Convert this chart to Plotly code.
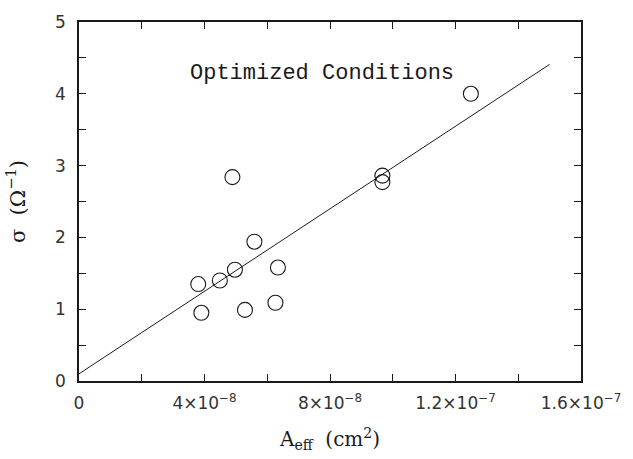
import plotly.graph_objects as go

# Data
area_eff = [4.89e-8, 5.59e-8, 6.34e-8, 4.97e-8, 4.49e-8, 3.80e-8, 3.90e-8,
            5.29e-8, 6.26e-8, 9.67e-8, 9.67e-8, 12.49e-8]
sigma = [2.84, 1.94, 1.58, 1.55, 1.40, 1.35, 0.95, 0.99, 1.09, 2.86, 2.77, 4.00]

fit_x = [0.0, 1.50e-7]
fit_y = [0.10, 4.41]

x_tickvals = [0, 2e-8, 4e-8, 6e-8, 8e-8, 10e-8, 12e-8, 14e-8, 16e-8]
x_ticktext = ["0", "", "4×10<sup>−8</sup>", "", "8×10<sup>−8</sup>", "",
              "1.2×10<sup>−7</sup>", "", "1.6×10<sup>−7</sup>"]
y_tickvals = [0, 0.5, 1, 1.5, 2, 2.5, 3, 3.5, 4, 4.5, 5]
y_ticktext = ["0", "", "1", "", "2", "", "3", "", "4", "", "5"]

ink = "#1a1a1a"

fig = go.Figure()
fig.add_trace(go.Scatter(x=fit_x, y=fit_y, mode="lines",
                         line=dict(color=ink, width=1), showlegend=False,
                         hoverinfo="skip"))
fig.add_trace(go.Scatter(x=area_eff, y=sigma, mode="markers",
                         marker=dict(symbol="circle-open", size=15,
                                     color=ink, line=dict(width=1.1)),
                         showlegend=False))

fig.add_annotation(x=7.75e-8, y=4.28, xref="x", yref="y",
                   text="Optimized Conditions", showarrow=False,
                   font=dict(family="Liberation Mono", size=22, color=ink))

axis_common = dict(showline=True, linecolor=ink, linewidth=1.6, mirror="ticks",
                   ticks="inside", ticklen=7, tickwidth=1, tickcolor=ink,
                   showgrid=False, zeroline=False)

fig.update_xaxes(range=[0, 1.6e-7], tickmode="array", tickvals=x_tickvals,
                 ticktext=x_ticktext,
                 tickfont=dict(family="DejaVu Sans", size=17, color="#333"),
                 ticklabelstandoff=6,
                 title=dict(text="A<sub>eff</sub>  (cm<sup>2</sup>)",
                            font=dict(family="DejaVu Serif", size=20, color=ink),
                            standoff=20),
                 **axis_common)
fig.update_yaxes(range=[0, 5], tickmode="array", tickvals=y_tickvals,
                 ticktext=y_ticktext,
                 tickfont=dict(family="DejaVu Sans", size=17, color="#333"),
                 ticklabelstandoff=8,
                 title=dict(text="σ  (Ω<sup>−1</sup>)",
                            font=dict(family="DejaVu Serif", size=21, color=ink),
                            standoff=24),
                 **axis_common)

fig.update_layout(width=633, height=459,
                  margin=dict(l=79, r=49, t=16, b=76),
                  paper_bgcolor="white", plot_bgcolor="white")

fig.write_html("out.html")
